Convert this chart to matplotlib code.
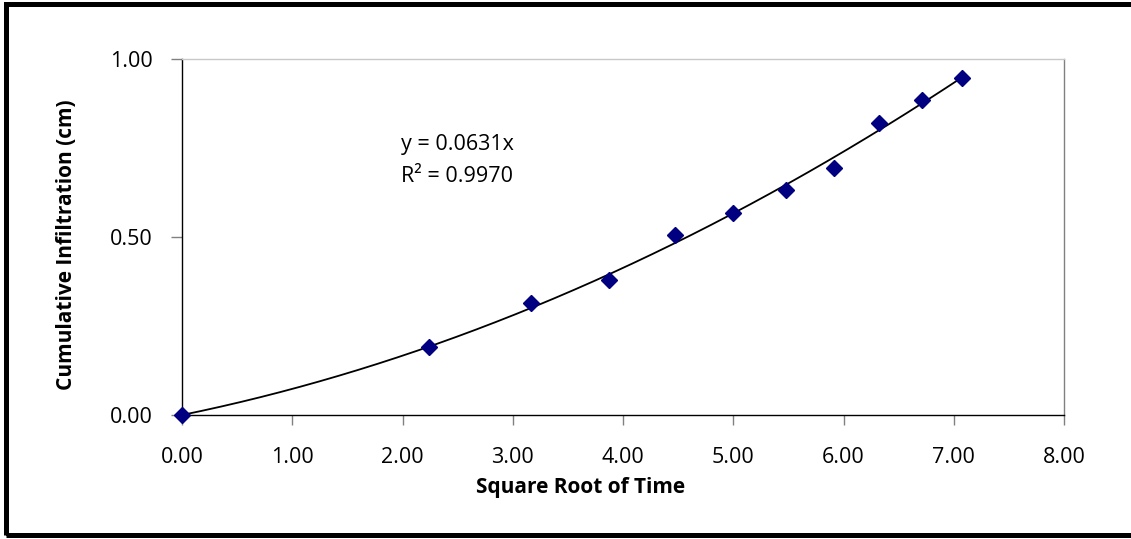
import matplotlib as mpl
mpl.use('agg')

import matplotlib.pyplot as plt
import numpy as np
from matplotlib.patches import Rectangle

# square root of time and cumulative infiltration (cm)
sqrt_time = [0.0, 2.236, 3.162, 3.873, 4.472, 5.0, 5.477, 5.916, 6.325, 6.708, 7.071]
infiltration = [0.0, 0.19, 0.315, 0.378, 0.505, 0.568, 0.631, 0.694, 0.821, 0.884, 0.946]

x_ticks = [0, 1, 2, 3, 4, 5, 6, 7, 8]
y_ticks = [0.0, 0.5, 1.0]

eq_text = "y = 0.0631x\nR\u00b2 = 0.9970"


def config_matplotlib():
    plt.rc('font', family=['Open Sans', 'DejaVu Sans'], size=15.5)


def trend_curve(x, y):
    # 2nd order polynomial trendline forced through the origin
    x = np.asarray(x)
    y = np.asarray(y)
    A = np.column_stack([x ** 2, x])
    coef = np.linalg.lstsq(A, y, rcond=None)[0]
    xs = np.linspace(0, x.max(), 200)
    return xs, coef[0] * xs ** 2 + coef[1] * xs


if __name__ == '__main__':
    config_matplotlib()

    W, H = 1131, 539
    fig = plt.figure(figsize=(W / 100, H / 100), dpi=100)
    ax = fig.add_axes([182 / W, 1 - 415 / H, (1064 - 182) / W, (415 - 59) / H])

    xs, ys = trend_curve(sqrt_time, infiltration)
    ax.plot(xs, ys, color='black', lw=1.3, zorder=2)
    ax.plot(sqrt_time, infiltration, ls='none', marker='D', ms=8,
            color='#000080', mec='#000080', zorder=3, clip_on=False)

    ax.set_xlim(0, 8)
    ax.set_ylim(0, 1)
    ax.set_xticks(x_ticks)
    ax.set_xticklabels(["{0:.2f}".format(v) for v in x_ticks])
    ax.set_yticks(y_ticks)
    ax.set_yticklabels(["{0:.2f}".format(v) for v in y_ticks])

    ax.tick_params(axis='x', direction='out', length=7, width=1, color='#808080', pad=16)
    ax.tick_params(axis='y', direction='out', length=8, width=1, color='#808080', pad=13)

    ax.spines['left'].set_color('black')
    ax.spines['bottom'].set_color('black')
    ax.spines['top'].set_color('#c8c8c8')
    ax.spines['right'].set_color('#808080')
    for s in ax.spines.values():
        s.set_linewidth(1)

    ax.text(1.985, 0.655, eq_text, fontsize=15.5, linespacing=1.65,
            ha='left', va='baseline')

    fig.text(581 / W, 1 - 487 / H, "Square Root of Time", fontsize=15,
             fontweight='bold', ha='center', va='center')
    fig.text(67 / W, 1 - 245 / H, "Cumulative Infiltration (cm)", fontsize=15,
             fontweight='bold', ha='center', va='center', rotation=90)

    # outer chart border (open on the right, as cropped)
    fig.add_artist(Rectangle((6 / W, 4 / H), 1.5, (535 - 4) / H,
                             transform=fig.transFigure, fill=False,
                             edgecolor='black', lw=3.6, clip_on=False))

    fig.savefig("out.png", dpi=100)
